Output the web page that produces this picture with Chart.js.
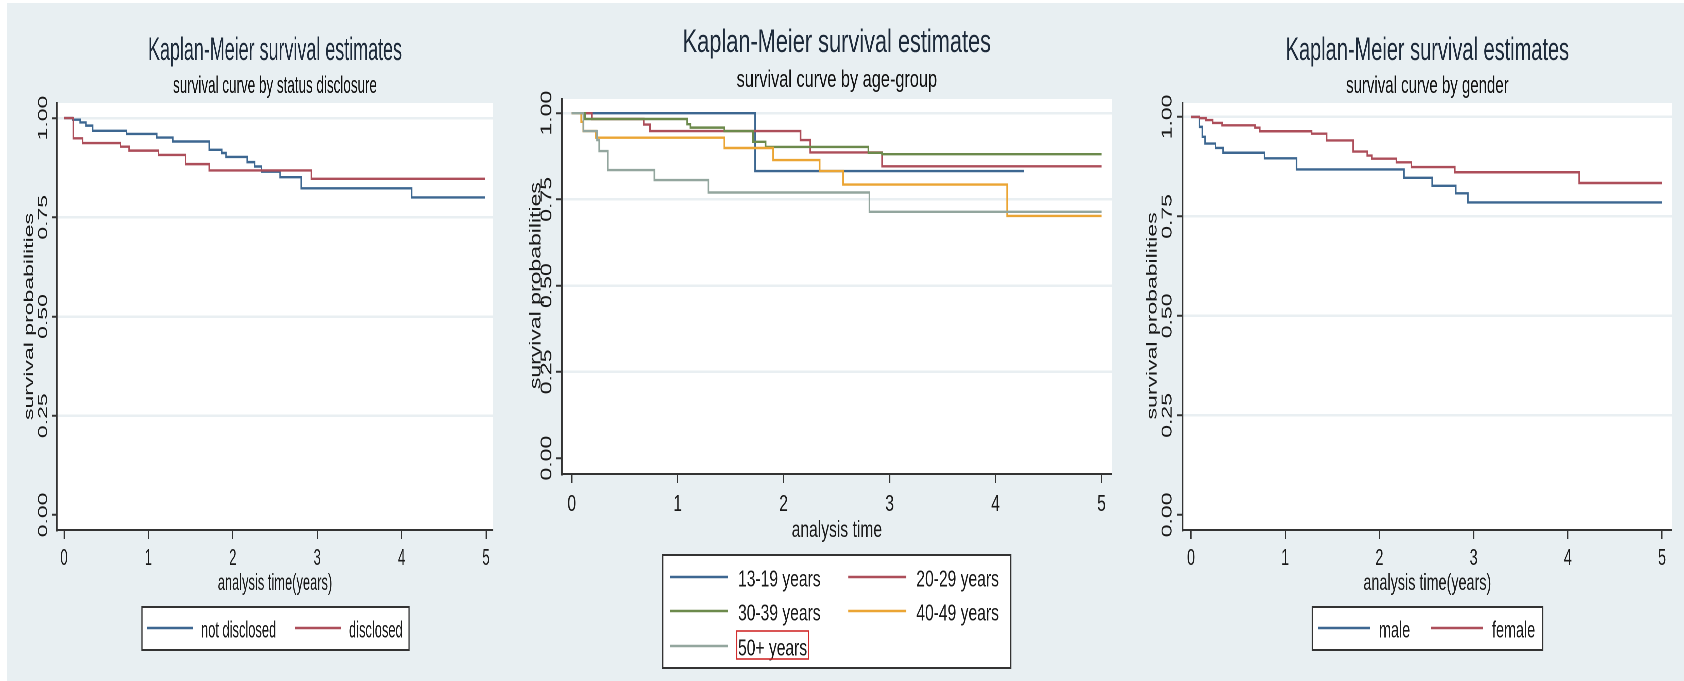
<!DOCTYPE html>
<html>
<head>
<meta charset="utf-8">
<title>Kaplan-Meier survival estimates</title>
<script src="https://cdn.jsdelivr.net/npm/chart.js@4.4.1/dist/chart.umd.min.js"></script>
<style>
  html, body { margin: 0; padding: 0; background: #ffffff; }
  #page { position: relative; width: 1684px; height: 681px; overflow: hidden; background: #ffffff; }
  #bg { position: absolute; left: 7px; top: 3px; right: 0; bottom: 0; background: #e8eff2; }
  .panel { position: absolute; top: 0; height: 681px; transform-origin: 0 0; }
  canvas { display: block; }
</style>
</head>
<body>
<div id="page">
  <div id="bg"></div>
  <div class="panel" id="p1"><canvas id="c1"></canvas></div>
  <div class="panel" id="p2"><canvas id="c2"></canvas></div>
  <div class="panel" id="p3"><canvas id="c3"></canvas></div>
</div>
<script>
const FONT = "'Liberation Sans', Arial, sans-serif";

// axes
const xTicks = [0, 1, 2, 3, 4, 5];
const yTicks = [0, 0.25, 0.5, 0.75, 1];
const yTickLabels = ['0.00', '0.25', '0.50', '0.75', '1.00'];

// panel 1: status disclosure
const disclosureGroups = ['not disclosed', 'disclosed'];
const notDisclosedTime = [0, 0.10, 0.19, 0.26, 0.34, 0.74, 1.10, 1.29, 1.72, 1.87, 1.92, 2.17, 2.26, 2.34, 2.56, 2.81, 4.12, 4.99];
const notDisclosedSurv = [1, 0.996, 0.989, 0.981, 0.968, 0.960, 0.951, 0.941, 0.920, 0.912, 0.902, 0.889, 0.878, 0.865, 0.851, 0.823, 0.800, 0.800];
const disclosedTime = [0, 0.11, 0.22, 0.67, 0.77, 1.12, 1.44, 1.72, 2.93, 4.99];
const disclosedSurv = [1, 0.949, 0.937, 0.928, 0.918, 0.907, 0.884, 0.868, 0.847, 0.847];

// panel 2: age group
const ageGroups = ['13-19 years', '20-29 years', '30-39 years', '40-49 years', '50+ years'];
const age1319Time = [0, 1.73, 4.27];
const age1319Surv = [1, 0.832, 0.832];
const age2029Time = [0, 0.19, 0.68, 0.74, 2.16, 2.25, 2.93, 5.0];
const age2029Surv = [1, 0.983, 0.967, 0.948, 0.922, 0.886, 0.846, 0.846];
const age3039Time = [0, 0.125, 1.09, 1.12, 1.44, 1.71, 1.83, 2.80, 2.93, 5.0];
const age3039Surv = [1, 0.983, 0.968, 0.958, 0.948, 0.917, 0.902, 0.885, 0.881, 0.881];
const age4049Time = [0, 0.09, 0.11, 0.23, 1.44, 1.90, 2.34, 2.56, 4.11, 5.0];
const age4049Surv = [1, 0.975, 0.948, 0.929, 0.899, 0.864, 0.832, 0.793, 0.702, 0.702];
const age50Time = [0, 0.11, 0.24, 0.26, 0.34, 0.78, 1.29, 2.81, 5.0];
const age50Surv = [1, 0.948, 0.922, 0.890, 0.835, 0.806, 0.770, 0.714, 0.714];

// panel 3: gender
const genderGroups = ['male', 'female'];
const maleTime = [0, 0.09, 0.12, 0.15, 0.26, 0.34, 0.78, 1.12, 2.26, 2.56, 2.81, 2.94, 5.0];
const maleSurv = [1, 0.975, 0.950, 0.933, 0.922, 0.910, 0.896, 0.868, 0.847, 0.827, 0.808, 0.785, 0.785];
const femaleTime = [0, 0.09, 0.16, 0.23, 0.33, 0.68, 0.73, 1.28, 1.44, 1.72, 1.87, 1.92, 2.18, 2.34, 2.80, 4.12, 5.0];
const femaleSurv = [1, 0.997, 0.992, 0.985, 0.979, 0.973, 0.964, 0.958, 0.941, 0.913, 0.903, 0.895, 0.886, 0.874, 0.861, 0.834, 0.834];

const BLUE = '#3d6791';
const RED = '#ad4e5a';
const GREEN = '#6c8a4c';
const ORANGE = '#eba534';
const GRAY = '#93a69e';

const XAXIS_H = 60;

function text(ctx, str, x, y, font, color, align, rot) {
  ctx.save();
  ctx.translate(x, y);
  if (rot) ctx.rotate(rot);
  ctx.font = font;
  ctx.fillStyle = color;
  ctx.textAlign = align;
  ctx.textBaseline = 'alphabetic';
  ctx.fillText(str, 0, 0);
  ctx.restore();
}

// stata-like decorations: white plot region, titles, rotated y labels, legend box
const kmDecor = {
  id: 'kmDecor',
  beforeDraw(chart) {
    const { ctx, chartArea: a } = chart;
    ctx.save();
    ctx.fillStyle = '#ffffff';
    ctx.fillRect(a.left, a.top, a.right - a.left, a.bottom - a.top);
    ctx.restore();
  },
  afterDraw(chart, args, opts) {
    const { ctx, chartArea: a } = chart;
    const p = opts.panel;
    const cx = (X) => (X - p.left) / p.squish;
    const mid = (a.left + a.right) / 2;
    const ys = chart.scales.y;

    text(ctx, 'Kaplan-Meier survival estimates', mid, p.titleBase, '32px ' + FONT, '#1d2a3a', 'center');
    text(ctx, p.subtitle, mid, p.subBase, '24px ' + FONT, '#111111', 'center');
    text(ctx, p.xTitle, mid, p.xTitleBase, '23px ' + FONT, '#1a1a1a', 'center');

    yTicks.forEach((v, i) => {
      text(ctx, yTickLabels[i], cx(p.yLabelBase), ys.getPixelForValue(v), '23px ' + FONT, '#1a1a1a', 'center', -Math.PI / 2);
    });
    const yMid = (ys.getPixelForValue(0) + ys.getPixelForValue(1)) / 2;
    text(ctx, 'survival probabilities', cx(p.yTitleBase), yMid, '23px ' + FONT, '#1a1a1a', 'center', -Math.PI / 2);

    // legend
    const b = p.legendBox;
    ctx.save();
    ctx.fillStyle = '#ffffff';
    ctx.fillRect(cx(b.l), b.t, cx(b.r) - cx(b.l), b.b - b.t);
    ctx.strokeStyle = '#333333';
    ctx.lineWidth = 2;
    ctx.strokeRect(cx(b.l), b.t, cx(b.r) - cx(b.l), b.b - b.t);
    ctx.restore();

    opts.labels.forEach((lab, i) => {
      const pos = p.legendItems[i];
      ctx.save();
      ctx.strokeStyle = opts.colors[i];
      ctx.lineWidth = 2.6;
      ctx.beginPath();
      ctx.moveTo(cx(pos.x), pos.y);
      ctx.lineTo(cx(pos.x + p.legendLine), pos.y);
      ctx.stroke();
      ctx.restore();
      const tx = cx(pos.x + p.legendText);
      text(ctx, lab, tx, pos.y + 9.5, '23px ' + FONT, '#1a1a1a', 'left');
      if (i === p.highlight) {
        ctx.save();
        ctx.font = '23px ' + FONT;
        const w = ctx.measureText(lab).width;
        ctx.strokeStyle = '#d12b2b';
        ctx.lineWidth = 1.6;
        ctx.strokeRect(tx - 2, pos.y - 15, w + 4, 28);
        ctx.restore();
      }
    });
  },
};

function buildPanel(canvasId, panelId, p, labels, times, survs, colors) {
  const cw = Math.round(p.width / p.squish);
  const holder = document.getElementById(panelId);
  holder.style.left = p.left + 'px';
  holder.style.width = cw + 'px';
  holder.style.transform = 'scaleX(' + p.squish + ')';
  const canvas = document.getElementById(canvasId);
  canvas.width = cw;
  canvas.height = 681;

  const plotL = (p.plot.l - p.left) / p.squish;
  const plotR = (p.plot.r - p.left) / p.squish;

  const datasets = labels.map((lab, i) => ({
    label: lab,
    data: times[i].map((t, k) => ({ x: t, y: survs[i][k] })),
    borderColor: colors[i],
    borderWidth: 2.4,
    pointRadius: 0,
    stepped: 'before',
    fill: false,
    order: labels.length - i,
  }));

  return new Chart(canvas.getContext('2d'), {
    type: 'line',
    data: { datasets },
    options: {
      responsive: false,
      animation: false,
      devicePixelRatio: 2,
      layout: {
        autoPadding: false,
        padding: { left: 0, right: cw - plotR, top: p.plot.t, bottom: 681 - p.plot.b - XAXIS_H },
      },
      scales: {
        x: {
          type: 'linear',
          min: p.xMin,
          max: p.xMax,
          afterBuildTicks: (s) => { s.ticks = xTicks.map((v) => ({ value: v })); },
          afterFit: (s) => { s.height = XAXIS_H; },
          ticks: {
            callback: (v) => String(v),
            font: { family: FONT, size: 23 },
            color: '#1a1a1a',
            padding: p.tickPad,
            maxRotation: 0,
            autoSkip: false,
          },
          grid: { drawOnChartArea: false, drawTicks: true, tickLength: 9, tickColor: '#333333', tickWidth: 2 },
          border: { display: true, color: '#333333', width: 2 },
        },
        y: {
          type: 'linear',
          min: p.yMin,
          max: p.yMax,
          afterBuildTicks: (s) => { s.ticks = yTicks.map((v) => ({ value: v })); },
          afterFit: (s) => { s.width = plotL; },
          ticks: { display: false },
          grid: {
            color: (c) => (c.tick && c.tick.value === 0 ? 'rgba(0,0,0,0)' : '#e9eff2'),
            lineWidth: 2.5,
            drawTicks: true,
            tickLength: 9,
            tickColor: '#333333',
            tickWidth: 2,
          },
          border: { display: true, color: '#333333', width: 2.4 },
        },
      },
      plugins: {
        legend: { display: false },
        tooltip: { enabled: false },
        kmDecor: { panel: p, labels, colors },
      },
    },
    plugins: [kmDecor],
  });
}

const panel1 = {
  left: 0, width: 520, squish: 0.56,
  plot: { l: 57, r: 493, t: 103, b: 530 },
  xMin: -0.083, xMax: 5.083, yMin: -0.038, yMax: 1.038,
  subtitle: 'survival curve by status disclosure',
  titleBase: 60, subBase: 93,
  xTitle: 'analysis time(years)', xTitleBase: 590, tickPad: 6,
  yTitleBase: 33, yLabelBase: 47,
  legendBox: { l: 142, r: 409, t: 607, b: 650 },
  legendItems: [{ x: 147, y: 628 }, { x: 295, y: 628 }],
  legendLine: 46, legendText: 54, highlight: -1,
};

const panel2 = {
  left: 515, width: 610, squish: 0.68,
  plot: { l: 562, r: 1111.7, t: 99, b: 474 },
  xMin: -0.0915, xMax: 5.096, yMin: -0.046, yMax: 1.041,
  subtitle: 'survival curve by age-group',
  titleBase: 52, subBase: 87,
  xTitle: 'analysis time', xTitleBase: 537, tickPad: 8,
  yTitleBase: 540.5, yLabelBase: 551.5,
  legendBox: { l: 662.7, r: 1010.7, t: 555, b: 668 },
  legendItems: [
    { x: 670, y: 577 }, { x: 848.3, y: 577 },
    { x: 670, y: 611 }, { x: 848.3, y: 611 },
    { x: 670, y: 646 },
  ],
  legendLine: 58, legendText: 68, highlight: 4,
};

const panel3 = {
  left: 1120, width: 564, squish: 0.625,
  plot: { l: 1182.7, r: 1672, t: 103, b: 530 },
  xMin: -0.088, xMax: 5.106, yMin: -0.038, yMax: 1.035,
  subtitle: 'survival curve by gender',
  titleBase: 60, subBase: 93,
  xTitle: 'analysis time(years)', xTitleBase: 590, tickPad: 6,
  yTitleBase: 1156.7, yLabelBase: 1171.7,
  legendBox: { l: 1312.4, r: 1542.6, t: 607, b: 650 },
  legendItems: [{ x: 1318, y: 628 }, { x: 1431, y: 628 }],
  legendLine: 52, legendText: 61, highlight: -1,
};

buildPanel('c1', 'p1', panel1, disclosureGroups,
  [notDisclosedTime, disclosedTime], [notDisclosedSurv, disclosedSurv], [BLUE, RED]);

buildPanel('c2', 'p2', panel2, ageGroups,
  [age1319Time, age2029Time, age3039Time, age4049Time, age50Time],
  [age1319Surv, age2029Surv, age3039Surv, age4049Surv, age50Surv],
  [BLUE, RED, GREEN, ORANGE, GRAY]);

buildPanel('c3', 'p3', panel3, genderGroups,
  [maleTime, femaleTime], [maleSurv, femaleSurv], [BLUE, RED]);
</script>
</body>
</html>
